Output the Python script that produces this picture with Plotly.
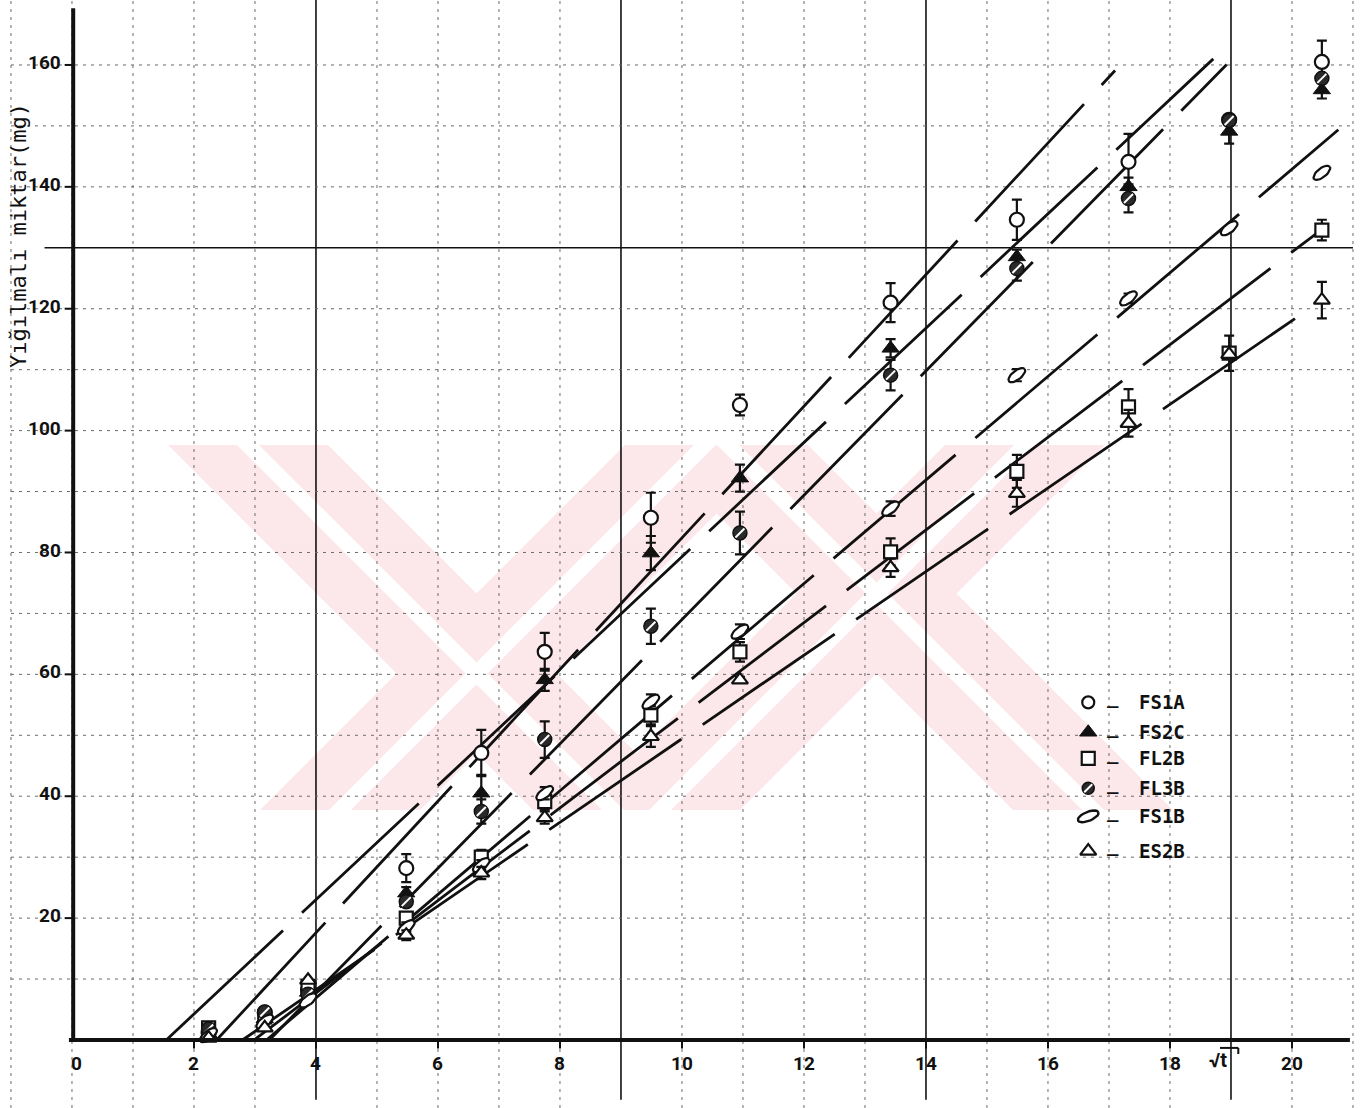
import numpy as np
import plotly.graph_objects as go

# ---------------------------------------------------------------------------
# Cumulative amount (mg) versus square root of time
# ---------------------------------------------------------------------------
sqrt_t = [2.24, 3.16, 3.87, 5.48, 6.71, 7.75, 9.49, 10.95, 13.42, 15.49, 17.32, 18.97, 20.49]

fs1a = [1.2, 4.5, 8.2, 28.2, 47.1, 63.7, 85.7, 104.2, 121.0, 134.6, 144.1, 151.0, 160.5]
fs1a_err = [0, 0, 0, 2.3, 3.8, 3.1, 4.1, 1.7, 3.2, 3.3, 4.6, 0, 3.5]

fs2c = [1.0, 3.5, 7.8, 24.1, 40.5, 59.1, 79.9, 92.2, 113.5, 128.5, 140.0, 149.1, 155.9]
fs2c_err = [0, 0, 0, 1.0, 3.0, 1.8, 2.8, 2.2, 1.5, 1.2, 1.5, 2.0, 1.4]

fl2b = [2.0, 3.8, 8.8, 20.0, 30.0, 39.1, 53.3, 63.7, 80.1, 93.3, 103.9, 112.7, 132.9]
fl2b_err = [0, 0, 0, 0.8, 1.2, 1.3, 1.5, 1.6, 2.2, 2.7, 2.9, 2.9, 1.7]

fl3b = [1.8, 4.6, 7.5, 22.7, 37.5, 49.3, 67.9, 83.2, 109.1, 126.6, 138.1, 150.9, 157.8]
fl3b_err = [0, 0, 0, 0.8, 2.0, 3.0, 2.9, 3.5, 2.5, 2.0, 2.3, 0, 0]

fs1b = [0.8, 3.0, 6.5, 18.5, 28.7, 40.5, 55.5, 67.0, 87.2, 109.1, 121.7, 133.2, 142.3]
fs1b_err = [0, 0, 0, 0.8, 0.8, 1.0, 1.2, 1.2, 1.2, 1.0, 0.8, 0, 0]

es2b = [0.3, 2.0, 9.8, 17.2, 27.4, 36.5, 49.8, 59.1, 77.5, 89.7, 101.2, 112.5, 121.4]
es2b_err = [0, 0, 0, 0.8, 1.0, 1.0, 1.7, 0.5, 1.5, 2.2, 2.2, 0, 3.0]

# straight reference lines (y = slope * sqrt_t + intercept), upper end of each
line_names = ["FS1A", "FS2C", "FL3B", "FS1B", "FL2B", "ES2B"]
line_slope = [10.8, 9.38, 10.2, 8.5, 7.6, 6.86]
line_intercept = [-25.6, -14.5, -33.0, -27.1, -22.7, -19.17]
line_x_end = [17.1, 18.71, 18.93, 20.76, 20.4, 20.38]

x_ticks = [0, 2, 4, 6, 8, 10, 12, 14, 16, 18, 20]
y_ticks = [20, 40, 60, 80, 100, 120, 140, 160]

# ---------------------------------------------------------------------------
W, H = 1365, 1108
X_RANGE = [-1.18, 21.197]
Y_RANGE = [-11.16, 170.66]
KX = (X_RANGE[1] - X_RANGE[0]) / W   # data units per pixel
KY = (Y_RANGE[1] - Y_RANGE[0]) / H

INK = "#111111"
GRID = "#6a6a6a"
PINK = "#fce7eb"
MONO = "DejaVu Sans Mono, Liberation Mono, monospace"
TICK_FONT = dict(family="Roboto, DejaVu Sans, sans-serif", size=19, color=INK, weight="bold")
KEY_FONT = dict(family=MONO, size=19, color=INK, weight="bold")
TITLE_FONT = dict(family=MONO, size=22, color=INK)

fig = go.Figure()

# reference lines, drawn as long dashes
for name, m, c, xe in zip(line_names, line_slope, line_intercept, line_x_end):
    xs = np.array([-c / m, xe])
    fig.add_trace(go.Scatter(x=xs, y=m * xs + c, mode="lines", showlegend=False,
                             line=dict(color=INK, width=2.8, dash="160px,26px"),
                             hoverinfo="skip"))


def err(a):
    return dict(type="data", array=a, visible=True, thickness=2.2, width=5, color=INK)


# FS1A: open circle
fig.add_trace(go.Scatter(x=sqrt_t, y=fs1a, mode="markers", name="FS1A", showlegend=False,
                         error_y=err(fs1a_err),
                         marker=dict(symbol="circle", size=14, color="white",
                                     line=dict(color=INK, width=2.2))))
# FS2C: filled triangle
fig.add_trace(go.Scatter(x=sqrt_t, y=fs2c, mode="markers", name="FS2C", showlegend=False,
                         error_y=err(fs2c_err),
                         marker=dict(symbol="triangle-up", size=15, color=INK,
                                     line=dict(color=INK, width=1))))
# FL2B: open square
fig.add_trace(go.Scatter(x=sqrt_t, y=fl2b, mode="markers", name="FL2B", showlegend=False,
                         error_y=err(fl2b_err),
                         marker=dict(symbol="square", size=13, color="white",
                                     line=dict(color=INK, width=2.2))))
# FL3B: hatched circle (dark disc with a light stripe)
fig.add_trace(go.Scatter(x=sqrt_t, y=fl3b, mode="markers", name="FL3B", showlegend=False,
                         error_y=err(fl3b_err),
                         marker=dict(symbol="circle", size=14, color="#2a2a2a",
                                     line=dict(color=INK, width=1.5))))
fig.add_trace(go.Scatter(x=sqrt_t, y=fl3b, mode="markers", showlegend=False, hoverinfo="skip",
                         marker=dict(symbol="line-ne", size=9, line=dict(color="white", width=2))))


# FS1B: tilted open ellipse
def ellipse_path(xc, yc, a=10.0, b=4.5, ang=38.0, n=30):
    th = np.radians(ang)
    ph = np.linspace(0, 2 * np.pi, n)
    ex = a * np.cos(th) * np.cos(ph) - b * np.sin(th) * np.sin(ph)
    ey = a * np.sin(th) * np.cos(ph) + b * np.cos(th) * np.sin(ph)
    return list(xc + ex * KX), list(yc + ey * KY)


ex_all, ey_all = [], []
for xv, yv in zip(sqrt_t, fs1b):
    px, py = ellipse_path(xv, yv)
    ex_all += px + [None]
    ey_all += py + [None]
fig.add_trace(go.Scatter(x=sqrt_t, y=fs1b, mode="markers", showlegend=False, hoverinfo="skip",
                         error_y=err(fs1b_err), marker=dict(size=1, color="rgba(0,0,0,0)")))
fig.add_trace(go.Scatter(x=ex_all, y=ey_all, mode="lines", name="FS1B", showlegend=False,
                         fill="toself", fillcolor="white", line=dict(color=INK, width=2.2)))

# ES2B: open triangle
fig.add_trace(go.Scatter(x=sqrt_t, y=es2b, mode="markers", name="ES2B", showlegend=False,
                         error_y=err(es2b_err),
                         marker=dict(symbol="triangle-up", size=14, color="white",
                                     line=dict(color=INK, width=2.2))))

# ---------------------------------------------------------------------------
shapes = []


# faint background emblem: diagonal bands, page pixel units
def band(a, b, slope, color, top=445, bottom=810):
    """Band between the lines x = a + slope*y and x = b + slope*y (page pixels)."""
    pts = [(a + slope * top, top), (b + slope * top, top),
           (b + slope * bottom, bottom), (a + slope * bottom, bottom)]
    path = "M " + " L ".join(f"{px / W:.4f},{1 - py / H:.4f}" for px, py in pts) + " Z"
    return dict(type="path", xref="paper", yref="paper", path=path, layer="below",
                fillcolor=color, line=dict(width=0))


EMBLEM_RISE = [(1390, 1550), (1070, 1230)]     # "/" bands
EMBLEM_FALL = [(203, 363), (-277, -117)]       # "\" bands
for a, b in EMBLEM_RISE:
    shapes.append(band(a, b, -1, PINK))
for a, b in EMBLEM_FALL:
    shapes.append(band(a, b, 1, PINK))
for a, b in EMBLEM_RISE:
    mid = (a + b) / 2
    shapes.append(band(mid - 11, mid + 11, -1, "white"))
for a, b in EMBLEM_FALL:
    mid = (a + b) / 2
    shapes.append(band(mid - 11, mid + 11, 1, "white"))

# graph-paper grid, axes and ticks
for xv in range(-1, 22):
    major = xv in (4, 9, 14, 19)
    shapes.append(dict(type="line", xref="x", yref="y", x0=xv, x1=xv,
                       y0=-9.8 if major else Y_RANGE[0], y1=Y_RANGE[1], layer="below",
                       line=dict(color=INK if major else GRID, width=1.6 if major else 1,
                                 dash="solid" if major else "3px,5px")))
for yv in range(10, 170, 10):
    major = yv == 130
    shapes.append(dict(type="line", xref="x", yref="y", x0=-1.0 if not major else -0.45, x1=21.0,
                       y0=yv, y1=yv, layer="below",
                       line=dict(color=INK if major else GRID, width=1.6 if major else 1,
                                 dash="solid" if major else "3px,5px")))

# axes
shapes.append(dict(type="line", xref="x", yref="y", x0=0.02, x1=0.02, y0=-0.3, y1=169.3,
                   line=dict(color=INK, width=4)))
shapes.append(dict(type="line", xref="x", yref="y", x0=-0.05, x1=20.95, y0=0, y1=0,
                   line=dict(color=INK, width=4)))
for xv in x_ticks[1:]:
    shapes.append(dict(type="line", xref="x", yref="y", x0=xv, x1=xv, y0=0, y1=-1.4,
                       line=dict(color=INK, width=2)))
for yv in y_ticks:
    shapes.append(dict(type="line", xref="x", yref="y", x0=0, x1=-0.12, y0=yv, y1=yv,
                       line=dict(color=INK, width=2)))

annotations = []
for xv in x_ticks:
    annotations.append(dict(x=xv + (0.08 if xv == 0 else 0), y=-3.9, xref="x", yref="y",
                            text=str(xv), showarrow=False, font=TICK_FONT,
                            xanchor="center", yanchor="middle"))
for yv in y_ticks:
    annotations.append(dict(x=-0.15, y=yv + 0.4, xref="x", yref="y", text=str(yv),
                            showarrow=False, font=TICK_FONT, xanchor="right", yanchor="middle"))

# sqrt(t) label with its overbar
annotations.append(dict(x=18.78, y=-3.3, xref="x", yref="y", text="√t", showarrow=False,
                        font=dict(TICK_FONT, size=20), xanchor="center", yanchor="middle"))
shapes.append(dict(type="line", xref="x", yref="y", x0=18.82, x1=19.12, y0=-1.3, y1=-1.3,
                   line=dict(color=INK, width=2)))
shapes.append(dict(type="line", xref="x", yref="y", x0=19.12, x1=19.12, y0=-1.3, y1=-2.3,
                   line=dict(color=INK, width=2)))

annotations.append(dict(x=-0.88, y=132, xref="x", yref="y", text="Yığılmalı miktar(mg)",
                        textangle=-90, showarrow=False, font=TITLE_FONT,
                        xanchor="center", yanchor="middle"))

# ---------------------------------------------------------------------------
# hand-made key
LEG_X = 16.66
LEG_DASH_X = 17.07
LEG_TEXT_X = 17.46
LEG_ROWS = [55.4, 50.5, 46.2, 41.3, 36.7, 31.0]
leg_names = ["FS1A", "FS2C", "FL2B", "FL3B", "FS1B", "ES2B"]
leg_markers = [
    dict(symbol="circle", size=12, color="white", line=dict(color=INK, width=2.2)),
    dict(symbol="triangle-up", size=15, color=INK, line=dict(color=INK, width=1)),
    dict(symbol="square", size=13, color="white", line=dict(color=INK, width=2.2)),
    dict(symbol="circle", size=12, color="#2a2a2a", line=dict(color=INK, width=1.5)),
    None,
    dict(symbol="triangle-up", size=14, color="white", line=dict(color=INK, width=2.2)),
]
for name, yr, mk in zip(leg_names, LEG_ROWS, leg_markers):
    if mk is not None:
        fig.add_trace(go.Scatter(x=[LEG_X], y=[yr], mode="markers", marker=mk,
                                 showlegend=False, hoverinfo="skip"))
    else:
        px, py = ellipse_path(LEG_X, yr, a=11, b=4.5, ang=22)
        fig.add_trace(go.Scatter(x=px, y=py, mode="lines", fill="toself", fillcolor="white",
                                 line=dict(color=INK, width=2.4), showlegend=False, hoverinfo="skip"))
    annotations.append(dict(x=LEG_DASH_X, y=yr + 1.0, xref="x", yref="y", text="_",
                            showarrow=False, font=KEY_FONT, xanchor="center", yanchor="middle"))
    annotations.append(dict(x=LEG_TEXT_X, y=yr, xref="x", yref="y", text=name,
                            showarrow=False, font=KEY_FONT, xanchor="left", yanchor="middle"))
fig.add_trace(go.Scatter(x=[LEG_X], y=[LEG_ROWS[3]], mode="markers", showlegend=False,
                         hoverinfo="skip",
                         marker=dict(symbol="line-ne", size=8, line=dict(color="white", width=2))))

fig.update_layout(
    width=W, height=H, margin=dict(l=0, r=0, t=0, b=0),
    paper_bgcolor="white", plot_bgcolor="rgba(0,0,0,0)",
    xaxis=dict(range=X_RANGE, visible=False, showgrid=False, zeroline=False),
    yaxis=dict(range=Y_RANGE, visible=False, showgrid=False, zeroline=False),
    shapes=shapes, annotations=annotations, showlegend=False,
)

fig.write_html("out.html")
